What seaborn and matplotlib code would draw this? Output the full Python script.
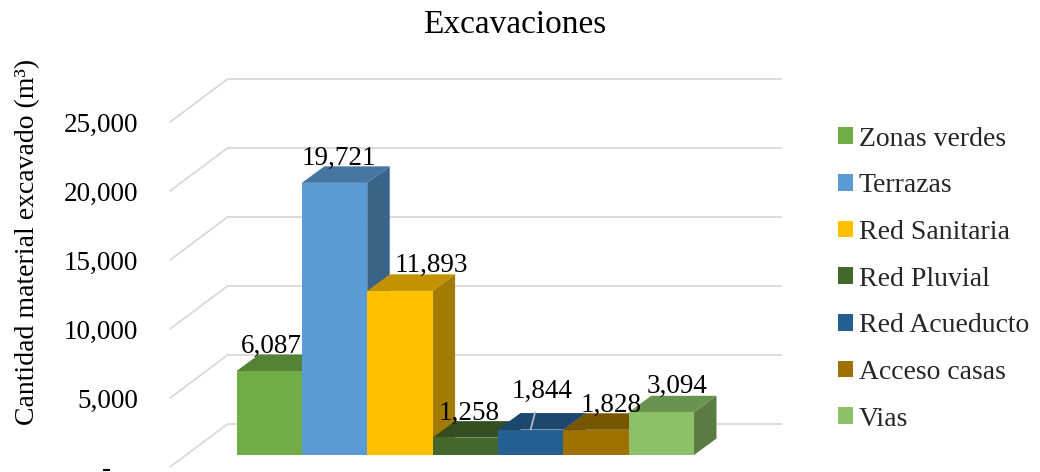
import numpy as np
import pandas as pd
import matplotlib
matplotlib.use("Agg")
import matplotlib.pyplot as plt
import matplotlib.colors as mcolors
from matplotlib.patches import Polygon
from matplotlib.lines import Line2D
from matplotlib.transforms import IdentityTransform
from matplotlib.ticker import FixedLocator, FuncFormatter
import seaborn as sns

# --- data -------------------------------------------------------------
categorias = ["Zonas verdes", "Terrazas", "Red Sanitaria", "Red Pluvial",
              "Red Acueducto", "Acceso casas", "Vias"]
volumenes = [6087, 19721, 11893, 1258, 1844, 1828, 3094]
colores = ["#70AD47", "#5B9BD5", "#FFC000", "#43682B",
           "#255E91", "#9E7100", "#8CC168"]
marcas_y = [0, 5000, 10000, 15000, 20000, 25000]

# label nudges in pixels (dx, rise above the front top edge)
ajuste_etiquetas = [(2, 18), (4, 18), (31, 19), (4, 18), (11, 32), (15, 18), (16, 19)]

sns.set_theme(style="white")
plt.rcParams["font.family"] = ["Liberation Serif", "DejaVu Serif"]

W, H = 1040, 472
DPI = 100
fig = plt.figure(figsize=(W / DPI, H / DPI), dpi=DPI)
fig.patch.set_facecolor("white")

# pixel geometry of the pseudo-3D box
PLOT_L, PLOT_R = 186, 741          # bar plane, left/right
PLOT_B, PLOT_T = 455, 110          # bar plane, zero and top (from image top)
FRONT = (-16, -12)                 # front edge of the side wall relative to bar plane
BACK = (41, 30.6)                  # back wall relative to bar plane
DEPTH = (22.5, 16.5)               # depth of each bar
YMAX = 25000
XLIM = (-1.273, 7.219)

def axes_rect(dx=0.0, dy=0.0):
    return [(PLOT_L + dx) / W, (H - PLOT_B + dy) / H,
            (PLOT_R - PLOT_L) / W, (PLOT_B - PLOT_T) / H]

ax_back = fig.add_axes(axes_rect(*BACK), zorder=0)
ax_front = fig.add_axes(axes_rect(*FRONT), zorder=1)
ax = fig.add_axes(axes_rect(), zorder=2)

for a in (ax_back, ax_front, ax):
    a.set_xlim(*XLIM)
    a.set_ylim(0, YMAX)
    a.patch.set_alpha(0)
    for s in a.spines.values():
        s.set_visible(False)
    a.set_xticks([])
ax_back.set_yticks([])
ax.set_yticks([])

grid_kw = dict(color="#D9D9D9", lw=1.3)

# back wall gridlines
ax_back.hlines(marcas_y, XLIM[0], XLIM[1], clip_on=False, **grid_kw)
# side wall gridlines: front edge to back wall
for v in marcas_y:
    p0 = ax_front.transData.transform((XLIM[0], v))
    p1 = ax_back.transData.transform((XLIM[0], v))
    ax_back.add_line(Line2D([p0[0], p1[0]], [p0[1], p1[1]],
                            transform=IdentityTransform(), clip_on=False, **grid_kw))

# value axis labels on the front edge
ax_front.yaxis.set_major_locator(FixedLocator(marcas_y))
ax_front.yaxis.set_major_formatter(FuncFormatter(lambda v, _: "-    " if v == 0 else f"{v:,.0f}"))
ax_front.tick_params(axis="y", length=0, pad=23, labelsize=19.5, labelcolor="black")
ax_front.set_ylabel("Cantidad material excavado (m³)", fontsize=20, color="black")
ax_front.yaxis.set_label_coords((40 - 170) / (PLOT_R - PLOT_L), (467 - 242) / (PLOT_B - PLOT_T))

# bars
df = pd.DataFrame({"Categoria": categorias, "Volumen": volumenes})
sns.barplot(data=df, x="Categoria", y="Volumen", hue="Categoria", palette=colores,
            width=1.0, saturation=1, legend=True, linewidth=0, edgecolor="none", ax=ax)
ax.set_xlim(*XLIM)
ax.set_ylim(0, YMAX)
ax.set_xlabel("")
ax.set_ylabel("")
ax.set_xticks([])
ax.set_yticks([])

def shade(c, f):
    r, g, b = mcolors.to_rgb(c)
    return (r * f, g * f, b * f)

barras = [p for c in ax.containers for p in c
          if np.isfinite(p.get_height()) and p.get_height() > 0 and p.get_width() > 0]
barras = sorted(barras, key=lambda p: p.get_x())
d = np.array(DEPTH)
for i, bar in enumerate(barras):
    col = bar.get_facecolor()
    x0, w, h = bar.get_x(), bar.get_width(), bar.get_height()
    fl = ax.transData.transform((x0, h))
    fr = ax.transData.transform((x0 + w, h))
    br = ax.transData.transform((x0 + w, 0))
    base = 10 + 3 * i
    side = Polygon([br, fr, fr + d, br + d], closed=True, transform=IdentityTransform(),
                   facecolor=shade(col, 0.64), edgecolor="none", clip_on=False, zorder=base)
    top = Polygon([fl, fr, fr + d, fl + d], closed=True, transform=IdentityTransform(),
                  facecolor=shade(col, 0.76), edgecolor="none", clip_on=False, zorder=base + 1)
    ax.add_patch(side)
    ax.add_patch(top)
    bar.set_zorder(base + 2)
    bar.set_clip_on(False)

# data labels
for i, bar in enumerate(barras):
    cx = bar.get_x() + bar.get_width() / 2
    v = bar.get_height()
    dx, dy = ajuste_etiquetas[i]
    kw = {}
    if i == 4:
        kw["arrowprops"] = dict(arrowstyle="-", color="#BFBFBF", lw=1.2,
                                shrinkA=4, shrinkB=0, relpos=(0.43, 0.0))
    ax.annotate(f"{v:,.0f}", xy=(cx, v), xytext=(dx, dy), textcoords="offset pixels",
                ha="center", va="baseline", fontsize=19.5, color="black",
                zorder=100, annotation_clip=False, **kw)

# legend
sns.move_legend(ax, loc="center left", bbox_to_anchor=(838 / W, 1 - 279 / H),
                bbox_transform=fig.transFigure, title=None, frameon=False,
                fontsize=20, handlelength=0.55, handleheight=0.55,
                handletextpad=0.2, labelspacing=0.78, borderpad=0, borderaxespad=0)

fig.text(515 / W, 1 - 33 / H, "Excavaciones", ha="center", va="baseline",
         fontsize=24, color="black")

fig.savefig("out.png", dpi=DPI, facecolor="white")
